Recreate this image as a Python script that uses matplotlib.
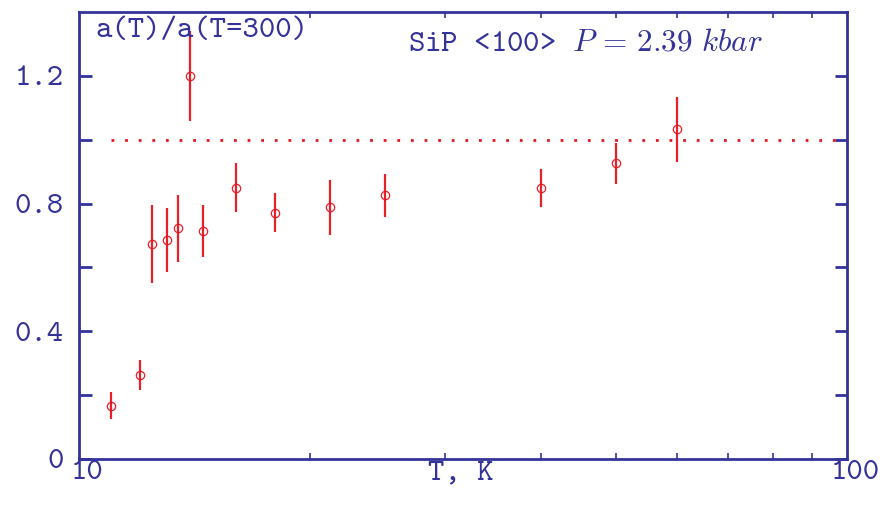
import matplotlib

matplotlib.use("Agg")
import matplotlib.pyplot as plt
import matplotlib.transforms as mtransforms
from matplotlib.ticker import FixedLocator, NullFormatter

AXIS_COLOR = "#333399"
RED = "#e8141e"

temperature = [11.0, 12.0, 12.45, 13.0, 13.45, 13.95, 14.5, 16.0, 18.0, 21.2, 25.0, 40.0, 50.0, 60.0]
ratio = [0.167, 0.263, 0.673, 0.685, 0.722, 1.20, 0.713, 0.850, 0.772, 0.788, 0.826, 0.848, 0.926, 1.032]
ratio_err = [0.042, 0.047, 0.121, 0.100, 0.104, 0.140, 0.081, 0.077, 0.060, 0.086, 0.067, 0.060, 0.064, 0.101]

reference_T = [11.0, 100.0]
reference_ratio = [1.0, 1.0]

y_ticks = [0, 0.2, 0.4, 0.6, 0.8, 1.0, 1.2]
y_labels = ["0", "", "0.4", "", "0.8", "", "1.2"]
x_minor = [20, 30, 40, 50, 60, 70, 80, 90]

plt.rcParams["mathtext.fontset"] = "cm"
FONT = ["cmtt10", "DejaVu Sans Mono"]
SIZE = 22.5

fig = plt.figure(figsize=(8.82, 5.05), dpi=100)
ax = fig.add_axes([79 / 882, 46 / 505, 768 / 882, 447 / 505])

ax.plot(reference_T, reference_ratio, color=RED, lw=2.0, linestyle=(0, (1, 3.9)))
ax.errorbar(
    temperature,
    ratio,
    yerr=ratio_err,
    fmt="o",
    color=RED,
    ecolor=RED,
    elinewidth=1.6,
    capsize=0,
    markersize=6,
    markerfacecolor="none",
    markeredgewidth=0.9,
    alpha=0.95,
)

ax.set_xscale("log")
ax.set_xlim(10, 100)
ax.set_ylim(0, 1.4)

for side in ax.spines.values():
    side.set_color(AXIS_COLOR)
    side.set_linewidth(2.0)

ax.xaxis.set_major_locator(FixedLocator([10, 100]))
ax.xaxis.set_minor_locator(FixedLocator(x_minor))
ax.xaxis.set_minor_formatter(NullFormatter())
ax.set_xticklabels(["10", "100"])
ax.set_yticks(y_ticks)
ax.set_yticklabels(y_labels)

ax.tick_params(axis="x", which="major", length=0, pad=1, labelsize=SIZE, colors=AXIS_COLOR)
ax.tick_params(axis="x", which="minor", direction="in", length=4.5, width=1.2,
               top=True, bottom=True, color=AXIS_COLOR)
ax.tick_params(axis="y", direction="in", length=9, width=2.0, left=True, right=True,
               pad=11, labelsize=SIZE, colors=AXIS_COLOR)

# the x tick labels sit a little to the right of their ticks
shift = mtransforms.ScaledTranslation(8 / 100, 0, fig.dpi_scale_trans)
for label in ax.get_xticklabels():
    label.set_transform(label.get_transform() + shift)
for label in ax.get_xticklabels() + ax.get_yticklabels():
    label.set_family(FONT)

ax.text(0.497, -0.004, "T, K", transform=ax.transAxes, ha="center", va="top",
        fontsize=SIZE, family=FONT, color=AXIS_COLOR)
ax.text(0.021, 0.957, "a(T)/a(T=300)", transform=ax.transAxes, ha="left", va="center",
        fontsize=SIZE, family=FONT, color=AXIS_COLOR)
ax.text(0.428, 0.929, r"SiP <100> $P\,=\,2.39\ kbar$", transform=ax.transAxes,
        ha="left", va="center", fontsize=SIZE, family=FONT, color=AXIS_COLOR)

fig.savefig("out.png", dpi=100)
